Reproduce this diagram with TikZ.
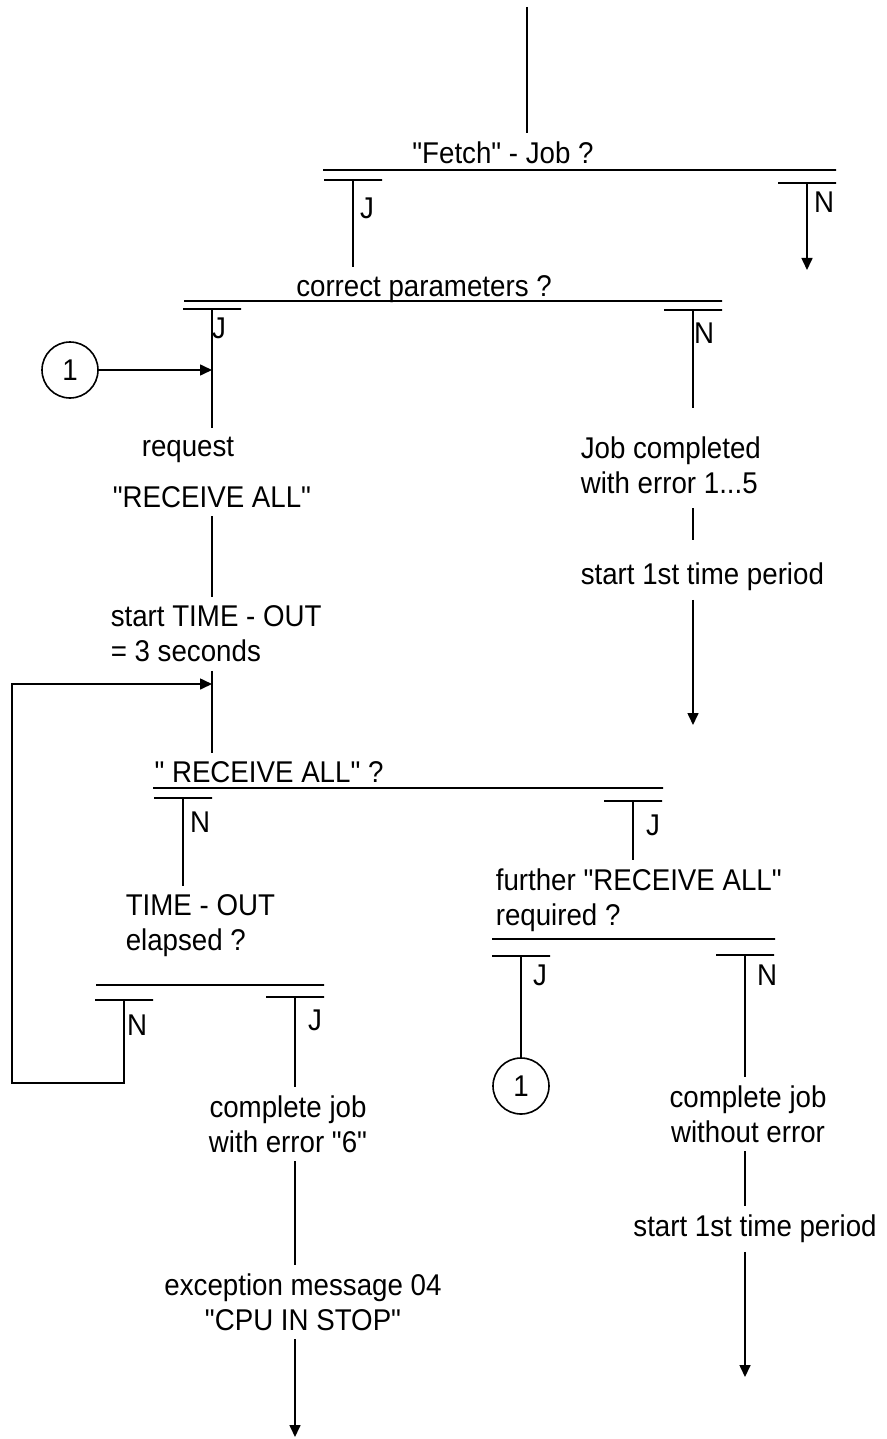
\documentclass[tikz,border=0pt]{standalone}
\usepackage{fontspec}
\newfontfamily\diagfont{Liberation Sans}[FakeStretch=0.923]
\usetikzlibrary{arrows.meta}

\begin{document}
\begin{tikzpicture}[x=0.5pt, y=-0.5pt, line width=0.8pt,
    every node/.style={font=\diagfont\fontsize{15}{17.5}\selectfont, inner sep=4pt},
    bar/.style={draw, rectangle, minimum width=29pt, minimum height=0pt, inner sep=0pt, outer sep=0pt},
    conn/.style={circle, draw, minimum size=28pt, inner sep=0pt},
    >={Triangle[length=6pt, width=5.5pt]}]
  \useasboundingbox (0,0) rectangle (887,1439);

  \node (fetchq) at (503,153) {"Fetch" - Job ?};
  \node (paramq) at (424,289) {correct parameters ?};
  \node (req1) at (188,450) {request};
  \node (req2) at (212,497) {"RECEIVE ALL"};
  \node[anchor=west, align=left] (timeout) at (102,634) {start TIME - OUT\\= 3 seconds};
  \node (rcvq) at (269,772) {" RECEIVE ALL" ?};
  \node[anchor=west, align=left] (elapsed) at (117,926) {TIME - OUT\\elapsed ?};
  \node[align=center] (errsix) at (288,1124) {complete job\\with error "6"};
  \node[align=center] (exc) at (303,1302) {exception message 04\\"CPU IN STOP"};
  \node[anchor=west, align=left] (jobcomp) at (572,465) {Job completed\\with error 1...5};
  \node[anchor=west] (period1) at (572,577) {start 1st time period};
  \node[anchor=west, align=left] (further) at (487,900) {further "RECEIVE ALL"\\required ?};
  \node[align=center] (noerr) at (748,1114) {complete job\\without error};
  \node (period2) at (755,1229) {start 1st time period};

  \node[conn] (conA) at (70,370) {1};
  \node[conn] (conB) at (521,1086) {1};

  \node[bar, minimum width=256.5pt] (d1) at (579.5,170) {};
  \node[bar, minimum width=269pt] (d2) at (453,301) {};
  \node[bar, minimum width=255pt] (d3) at (408,788) {};
  \node[bar, minimum width=114pt] (d4) at (210,985) {};
  \node[bar, minimum width=141.5pt] (d5) at (633.5,939) {};

  \node[bar] (b1j) at (353,180) {};
  \node[bar] (b1n) at (807,183) {};
  \node[bar] (b2j) at (212,309) {};
  \node[bar] (b2n) at (693,310) {};
  \node[bar] (b3n) at (183,798) {};
  \node[bar] (b3j) at (633,801) {};
  \node[bar] (b4n) at (124,1000) {};
  \node[bar] (b4j) at (295,997) {};
  \node[bar] (b5j) at (521,956) {};
  \node[bar] (b5n) at (745,955) {};

  \node (l1j) at (367,208) {J};
  \node (l1n) at (824,202) {N};
  \node (l2j) at (219,328) {J};
  \node (l2n) at (704,333) {N};
  \node (l3n) at (200,822) {N};
  \node (l3j) at (653,825) {J};
  \node (l4n) at (137,1025) {N};
  \node (l4j) at (315,1020) {J};
  \node (l5j) at (540,975) {J};
  \node (l5n) at (767,975) {N};

  \coordinate (top) at (527,7);
  \coordinate (e1) at (807,270);
  \coordinate (e2) at (693,725);
  \coordinate (e4) at (295,1437);
  \coordinate (e5) at (745,1377);
  \coordinate (loopin) at (212,684);
  \coordinate (loopc) at (12,1083);

  \draw (top) -- (top |- fetchq.north);
  \draw (b1j) -- (b1j |- paramq.north);
  \draw[->] (b1n) -- (e1);
  \draw (b2j) -- (b2j |- req1.north);
  \draw[->] (conA) -- (conA -| b2j);
  \draw (req2.south -| b2j) -- (b2j |- timeout.north);
  \draw (timeout.south -| b2j) -- (b2j |- rcvq.north);
  \draw[->] (b4n) |- (loopc) |- (loopin);
  \draw (b3n) -- (b3n |- elapsed.north);
  \draw (b4j) -- (b4j |- errsix.north);
  \draw (errsix.south -| b4j) -- (b4j |- exc.north);
  \draw[->] (exc.south -| b4j) -- (e4);
  \draw[shorten >=10pt] (b2n) -- (b2n |- jobcomp.north);
  \draw[shorten <=3pt, shorten >=7pt] (jobcomp.south -| b2n) -- (b2n |- period1.north);
  \draw[->] (period1.south -| b2n) -- (e2);
  \draw (b3j) -- (b3j |- further.north);
  \draw (b5j) -- (conB);
  \draw (b5n) -- (b5n |- noerr.north);
  \draw (noerr.south -| b5n) -- (b5n |- period2.north);
  \draw[->] (period2.south -| b5n) -- (e5);
\end{tikzpicture}
\end{document}
